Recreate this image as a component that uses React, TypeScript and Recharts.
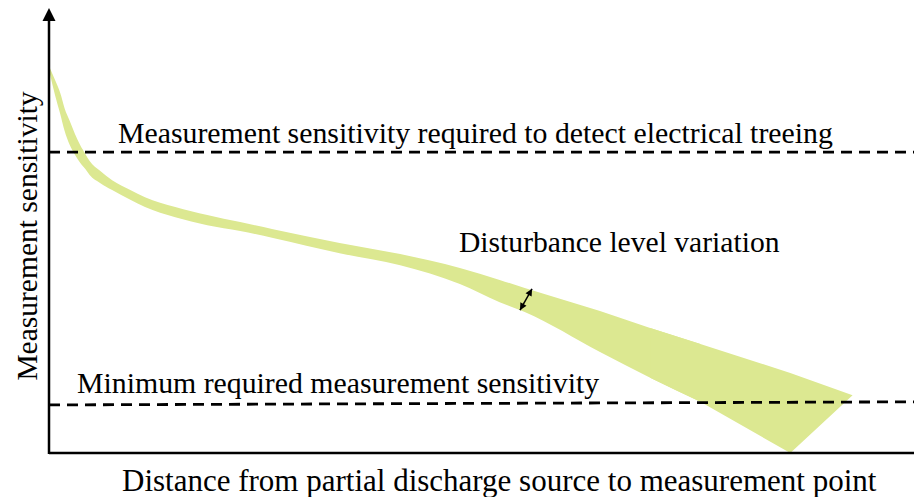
import React from 'react';
import { ComposedChart, Area, XAxis, YAxis, ReferenceLine } from 'recharts';

// distance along x (0-100), band edges in sensitivity units (0-100)
const distance = [0.1, 0.7, 1.3, 1.8, 2.4, 3.0, 3.6, 4.2, 4.7, 5.9, 7.3, 9.4, 11.1, 14.6, 18.3, 22.1, 25.9, 33.6, 40.6, 47.5, 52.1, 55.0, 63.7, 69.5, 75.3];
const upperEdge = [86.5, 83.8, 80.9, 77.5, 74.6, 71.7, 69.2, 67.2, 65.6, 63.4, 61.3, 59.1, 57.5, 55.3, 53.5, 51.9, 50.3, 47.2, 44.7, 41.6, 38.9, 37.1, 31.9, 28.1, 24.5];
const lowerEdge = [85.2, 80.4, 76.2, 72.4, 69.2, 67.0, 65.2, 63.8, 62.5, 60.7, 59.1, 56.9, 55.3, 53.0, 51.2, 49.9, 48.3, 44.9, 42.2, 38.0, 33.9, 31.7, 22.7, 16.9, 11.5];

// straight-edged tail of the band
const tailDistance = [69.5, 75.3, 85.7, 92.9];
const tailUpper = [28.1, 24.5, 18.0, 13.0];
const tailLower = [16.9, 11.5, 0, 13.0];

const treeingLevel = 67.6;
const minimumLevel = [10.8, 11.5];

const BAND = '#dce891';
const FONT = '"Liberation Serif", "Times New Roman", serif';

const rowMap = new Map<number, any>();
distance.forEach((x, i) => {
  rowMap.set(x, { x, band: [lowerEdge[i], upperEdge[i]] });
});
tailDistance.forEach((x, i) => {
  const row = rowMap.get(x) || { x };
  row.tail = [tailLower[i], tailUpper[i]];
  rowMap.set(x, row);
});
const data = Array.from(rowMap.values()).sort((a, b) => a.x - b.x);

const AxisArrow = (props: any) => {
  const { x1, y1, x2, y2 } = props;
  const bottom = Math.max(y1, y2);
  const top = Math.min(y1, y2);
  return (
    <g>
      <line x1={x1} y1={bottom + 1} x2={x2} y2={top + 12} stroke="#000" strokeWidth={2.5} />
      <path d={`M${x2},${top} L${x2 - 6.5},${top + 13} L${x2 + 6.5},${top + 13} Z`} fill="#000" />
    </g>
  );
};

const head = (tx: number, ty: number, fx: number, fy: number) => {
  const a = Math.atan2(ty - fy, tx - fx);
  const len = 7;
  const w = 3.5;
  const bx = tx - len * Math.cos(a);
  const by = ty - len * Math.sin(a);
  const px = -Math.sin(a) * w;
  const py = Math.cos(a) * w;
  return `M${tx},${ty} L${bx + px},${by + py} L${bx - px},${by - py} Z`;
};

const DoubleArrow = (props: any) => {
  const { x1, y1, x2, y2 } = props;
  return (
    <g>
      <line x1={x1} y1={y1} x2={x2} y2={y2} stroke="#000" strokeWidth={1.5} />
      <path d={head(x1, y1, x2, y2)} fill="#000" />
      <path d={head(x2, y2, x1, y1)} fill="#000" />
    </g>
  );
};

export default function App() {
  return (
    <div style={{ position: 'absolute', left: 0, top: 0, width: 914, height: 497, background: '#fff' }}>
      <ComposedChart width={914} height={497} data={data} margin={{ top: 8, right: 0, bottom: 0, left: 49 }}>
        <XAxis
          type="number"
          dataKey="x"
          domain={[0, 100]}
          tick={false}
          tickLine={false}
          height={44}
          axisLine={{ stroke: '#000', strokeWidth: 2.5 }}
        />
        <YAxis type="number" domain={[0, 100]} hide />
        <Area dataKey="band" type="monotone" fill={BAND} fillOpacity={1} stroke="none" isAnimationActive={false} />
        <Area dataKey="tail" type="linear" fill={BAND} fillOpacity={1} stroke="none" isAnimationActive={false} />
        <ReferenceLine y={treeingLevel} stroke="#000" strokeWidth={2.8} strokeDasharray="11 7" />
        <ReferenceLine
          segment={[{ x: 0, y: minimumLevel[0] }, { x: 100, y: minimumLevel[1] }]}
          stroke="#000"
          strokeWidth={2.8}
          strokeDasharray="11 7"
        />
        <ReferenceLine segment={[{ x: 0, y: 0 }, { x: 0, y: 100 }]} shape={AxisArrow} />
        <ReferenceLine segment={[{ x: 54.45, y: 32.1 }, { x: 55.84, y: 36.9 }]} shape={DoubleArrow} />
        <text x={118} y={143} fontFamily={FONT} fontSize={29.8} fill="#000">
          Measurement sensitivity required to detect electrical treeing
        </text>
        <text x={459} y={252} fontFamily={FONT} fontSize={29.6} fill="#000">
          Disturbance level variation
        </text>
        <text x={77} y={393} fontFamily={FONT} fontSize={29.8} fill="#000">
          Minimum required measurement sensitivity
        </text>
        <text x={122} y={491} fontFamily={FONT} fontSize={31} fill="#000">
          Distance from partial discharge source to measurement point
        </text>
        <text
          x={37}
          y={236}
          transform="rotate(-90 37 236)"
          textAnchor="middle"
          fontFamily={FONT}
          fontSize={29.5}
          fill="#000"
        >
          Measurement sensitivity
        </text>
      </ComposedChart>
    </div>
  );
}
